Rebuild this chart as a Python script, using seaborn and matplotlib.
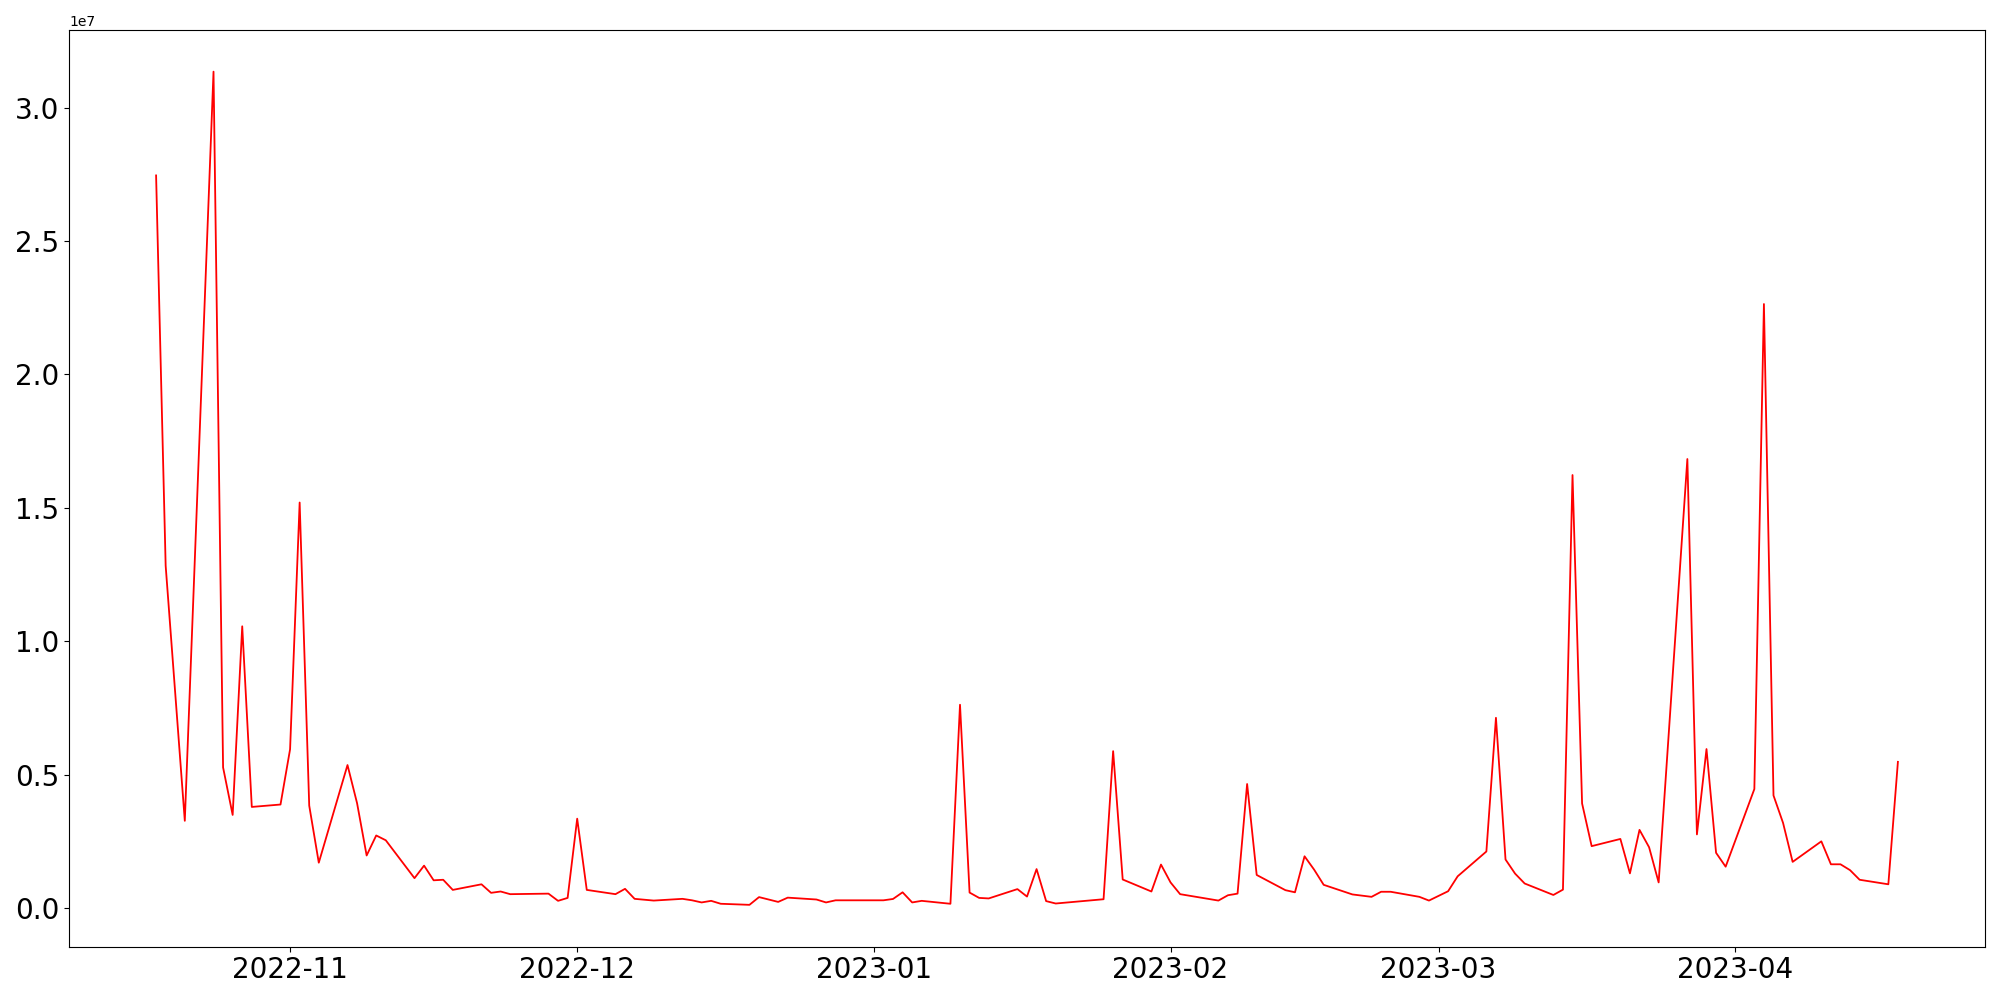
import pandas as pd
import matplotlib
matplotlib.use("Agg")
import matplotlib.pyplot as plt
import seaborn as sns

dates = [
    "2022-10-18", "2022-10-19", "2022-10-21", "2022-10-24", "2022-10-25", "2022-10-26",
    "2022-10-27", "2022-10-28", "2022-10-31", "2022-11-01", "2022-11-02", "2022-11-03",
    "2022-11-04", "2022-11-07", "2022-11-08", "2022-11-09", "2022-11-10", "2022-11-11",
    "2022-11-14", "2022-11-15", "2022-11-16", "2022-11-17", "2022-11-18", "2022-11-21",
    "2022-11-22", "2022-11-23", "2022-11-24", "2022-11-28", "2022-11-29", "2022-11-30",
    "2022-12-01", "2022-12-02", "2022-12-05", "2022-12-06", "2022-12-07", "2022-12-09",
    "2022-12-12", "2022-12-13", "2022-12-14", "2022-12-15", "2022-12-16", "2022-12-19",
    "2022-12-20", "2022-12-22", "2022-12-23", "2022-12-26", "2022-12-27", "2022-12-28",
    "2023-01-02", "2023-01-03", "2023-01-04", "2023-01-05", "2023-01-06", "2023-01-09",
    "2023-01-10", "2023-01-11", "2023-01-12", "2023-01-13", "2023-01-16", "2023-01-17",
    "2023-01-18", "2023-01-19", "2023-01-20", "2023-01-25", "2023-01-26", "2023-01-27",
    "2023-01-30", "2023-01-31", "2023-02-01", "2023-02-02", "2023-02-06", "2023-02-07",
    "2023-02-08", "2023-02-09", "2023-02-10", "2023-02-13", "2023-02-14", "2023-02-15",
    "2023-02-16", "2023-02-17", "2023-02-20", "2023-02-22", "2023-02-23", "2023-02-24",
    "2023-02-27", "2023-02-28", "2023-03-02", "2023-03-03", "2023-03-06", "2023-03-07",
    "2023-03-08", "2023-03-09", "2023-03-10", "2023-03-13", "2023-03-14", "2023-03-15",
    "2023-03-16", "2023-03-17", "2023-03-20", "2023-03-21", "2023-03-22", "2023-03-23",
    "2023-03-24", "2023-03-27", "2023-03-28", "2023-03-29", "2023-03-30", "2023-03-31",
    "2023-04-03", "2023-04-04", "2023-04-05", "2023-04-06", "2023-04-07", "2023-04-10",
    "2023-04-11", "2023-04-12", "2023-04-13", "2023-04-14", "2023-04-17", "2023-04-18",
]

# значения в единицах 1e7
values_1e7 = [
    2.746, 1.283, 0.327, 3.135, 0.527, 0.349,
    1.056, 0.379, 0.388, 0.595, 1.520, 0.384,
    0.170, 0.536, 0.393, 0.197, 0.272, 0.254,
    0.112, 0.159, 0.104, 0.106, 0.068, 0.089,
    0.057, 0.062, 0.052, 0.054, 0.027, 0.038,
    0.335, 0.068, 0.052, 0.072, 0.0345, 0.028,
    0.0345, 0.029, 0.021, 0.027, 0.016, 0.012,
    0.041, 0.023, 0.039, 0.032, 0.021, 0.029,
    0.029, 0.034, 0.059, 0.021, 0.027, 0.016,
    0.762, 0.058, 0.038, 0.036, 0.071, 0.043,
    0.146, 0.026, 0.017, 0.033, 0.588, 0.107,
    0.062, 0.163, 0.096, 0.052, 0.028, 0.048,
    0.054, 0.465, 0.124, 0.067, 0.059, 0.194,
    0.144, 0.087, 0.051, 0.042, 0.061, 0.061,
    0.042, 0.028, 0.063, 0.119, 0.212, 0.713,
    0.182, 0.129, 0.092, 0.049, 0.069, 1.623,
    0.392, 0.232, 0.259, 0.130, 0.293, 0.228,
    0.096, 1.683, 0.276, 0.596, 0.207, 0.155,
    0.446, 2.264, 0.422, 0.319, 0.173, 0.250,
    0.164, 0.164, 0.142, 0.106, 0.089, 0.548,
]

df = pd.DataFrame({
    "date": pd.to_datetime(dates),
    "value": [v * 1e7 for v in values_1e7],
})

fig, ax = plt.subplots(figsize=(20, 10), dpi=100)
sns.lineplot(data=df, x="date", y="value", color="red", linewidth=1.3, ax=ax)

ax.set_xlabel("")
ax.set_ylabel("")
ax.tick_params(axis="both", labelsize=20)

fig.subplots_adjust(left=0.0345, right=0.9925, top=0.97, bottom=0.0535)
fig.savefig("out.png", dpi=100)
plt.close(fig)
